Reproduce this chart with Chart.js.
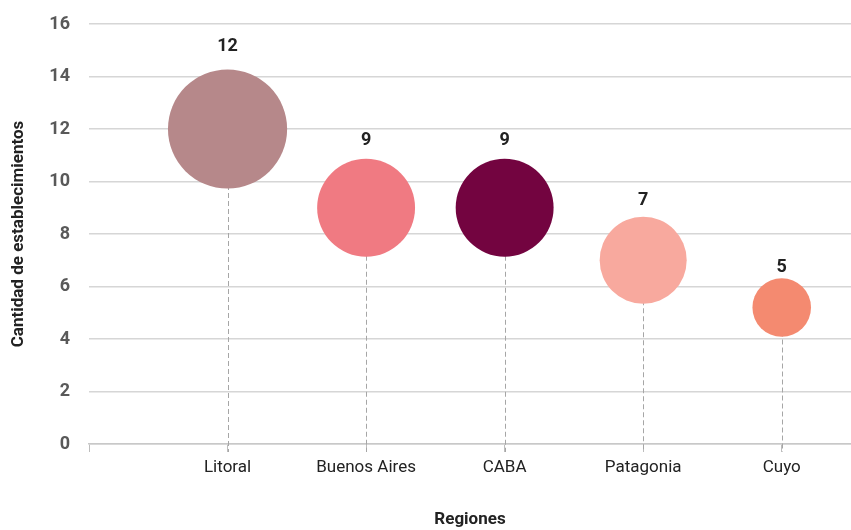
<!DOCTYPE html>
<html>
<head>
<meta charset="utf-8">
<script src="https://cdn.jsdelivr.net/npm/chart.js@4/dist/chart.umd.min.js"></script>
<style>
  html, body { margin: 0; padding: 0; background: #fff; }
  #wrap { width: 851px; height: 530px; }
</style>
</head>
<body>
<div id="wrap"><canvas id="myChart"></canvas></div>
<script>
// Data
const regiones = ['Litoral', 'Buenos Aires', 'CABA', 'Patagonia', 'Cuyo'];
const establecimientos = [12, 9, 9, 7, 5.2];
const bubbleSize = [12, 8.1, 8.1, 6.4, 2.9];
const colores = ['#B6888A', '#F07A82', '#730440', '#F8A99E', '#F48A70'];
const yTicks = [0, 2, 4, 6, 8, 10, 12, 14, 16];

const FONT = 'Roboto, "Liberation Sans", sans-serif';

// dashed drop lines + value labels
const extras = {
    id: 'extras',
    beforeDatasetsDraw(chart) {
        const ctx = chart.ctx;
        const meta = chart.getDatasetMeta(0);
        const y0 = chart.scales.y.getPixelForValue(0);
        ctx.save();
        ctx.strokeStyle = '#a6a6a6';
        ctx.lineWidth = 1;
        ctx.setLineDash([5, 3]);
        meta.data.forEach(pt => {
            ctx.beginPath();
            ctx.moveTo(Math.round(pt.x) + 0.5, pt.y);
            ctx.lineTo(Math.round(pt.x) + 0.5, y0 + 8);
            ctx.stroke();
        });
        ctx.restore();
    },
    afterDatasetsDraw(chart) {
        const ctx = chart.ctx;
        const meta = chart.getDatasetMeta(0);
        ctx.save();
        ctx.fillStyle = '#222';
        ctx.font = 'bold 18px ' + FONT;
        ctx.textAlign = 'center';
        ctx.textBaseline = 'middle';
        meta.data.forEach((pt, i) => {
            ctx.fillText(Math.round(establecimientos[i]), pt.x, pt.y - pt.options.radius * 1.38);
        });
        ctx.restore();
    }
};

const ctx = document.getElementById('myChart').getContext('2d');
new Chart(ctx, {
    type: 'bubble',
    data: {
        datasets: [{
            data: regiones.map((r, i) => ({ x: i + 1, y: establecimientos[i], r: 17.2 * Math.sqrt(bubbleSize[i]) })),
            backgroundColor: colores,
            borderWidth: 0,
            hoverBorderWidth: 0,
            clip: false
        }]
    },
    options: {
        responsive: true,
        maintainAspectRatio: false,
        animation: false,
        layout: { autoPadding: false, padding: { top: 24, right: 0, left: 0, bottom: 0 } },
        plugins: { legend: { display: false }, tooltip: { enabled: false } },
        scales: {
            x: {
                type: 'linear',
                min: 0,
                max: 5.5,
                afterFit: s => { s.height = 86; },
                afterBuildTicks: s => { s.ticks = [0, 1, 2, 3, 4, 5].map(v => ({ value: v })); },
                grid: { drawOnChartArea: false, drawTicks: true, tickLength: 8, color: '#bdbdbd', lineWidth: 1 },
                border: { display: true, color: '#c8c8c8', width: 1.5 },
                ticks: {
                    padding: 6,
                    maxRotation: 0,
                    color: '#222',
                    font: { family: FONT, size: 17 },
                    callback: v => (v >= 1 && v <= 5 ? regiones[v - 1] : '')
                },
                title: {
                    display: true,
                    text: 'Regiones',
                    color: '#222',
                    font: { family: FONT, size: 17, weight: 'bold' },
                    padding: { top: 0, bottom: 0 }
                }
            },
            y: {
                min: 0,
                max: 16,
                afterFit: s => { s.width = 89; },
                afterBuildTicks: s => { s.ticks = yTicks.map(v => ({ value: v })); },
                grid: { color: '#d6d6d6', lineWidth: 1.5, drawTicks: true, tickLength: 16, tickColor: 'rgba(0,0,0,0)' },
                border: { display: false },
                ticks: {
                    padding: 3,
                    color: '#595959',
                    font: { family: FONT, size: 18, weight: 'bold' }
                },
                title: {
                    display: true,
                    text: 'Cantidad de establecimientos',
                    color: '#222',
                    font: { family: FONT, size: 17, weight: 'bold' },
                    padding: { top: 9, bottom: 0 }
                }
            }
        }
    },
    plugins: [extras]
});
</script>
</body>
</html>
